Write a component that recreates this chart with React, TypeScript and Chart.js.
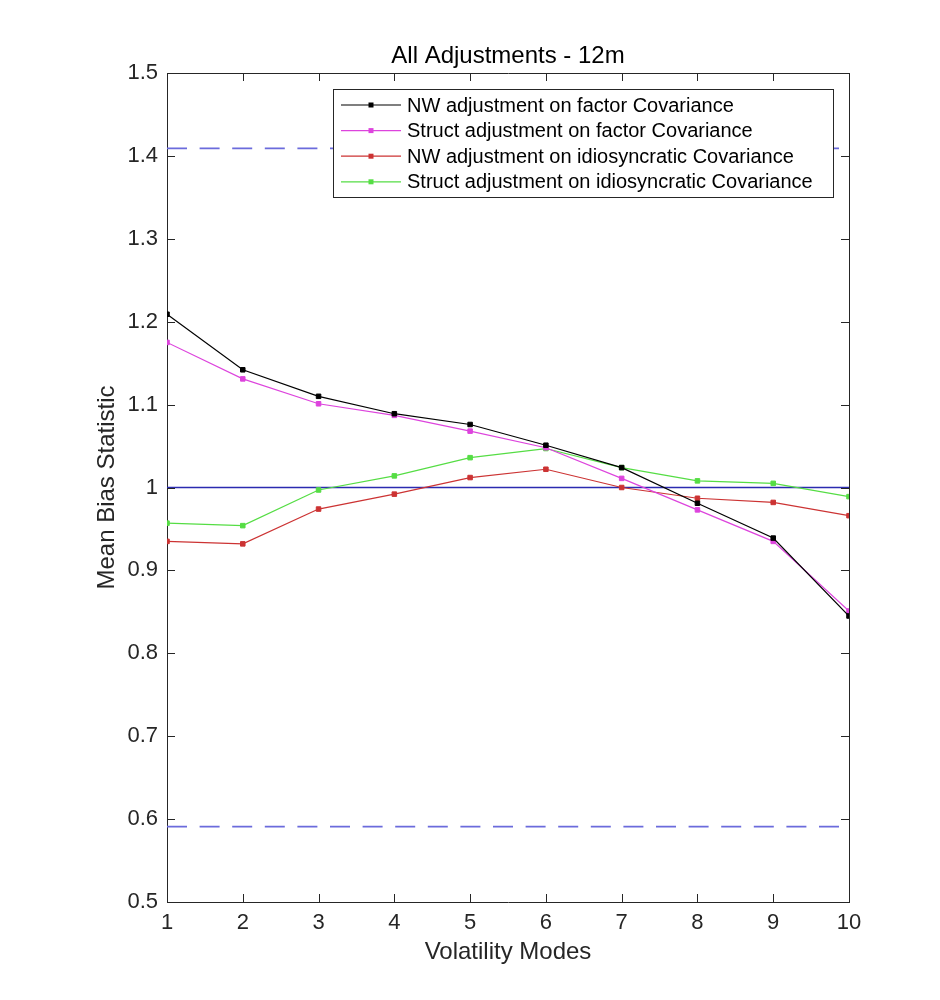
import React, { useEffect, useRef } from 'react';
import { Chart, registerables } from 'chart.js';

Chart.register(...registerables);

const FONT = '"Liberation Sans", Arial, Helvetica, sans-serif';

const chartTitle = 'All Adjustments - 12m';
const xTitle = 'Volatility Modes';
const yTitle = 'Mean Bias Statistic';

const modes = [1, 2, 3, 4, 5, 6, 7, 8, 9, 10];
const nwFactor = [1.209, 1.142, 1.110, 1.089, 1.076, 1.051, 1.024, 0.981, 0.939, 0.845];
const structFactor = [1.175, 1.131, 1.101, 1.087, 1.068, 1.048, 1.011, 0.973, 0.935, 0.851];
const nwIdio = [0.935, 0.932, 0.974, 0.992, 1.012, 1.022, 1.000, 0.987, 0.982, 0.966];
const structIdio = [0.957, 0.954, 0.997, 1.014, 1.036, 1.047, 1.024, 1.008, 1.005, 0.989];

const seriesLabels = [
  'NW adjustment on factor Covariance',
  'Struct adjustment on factor Covariance',
  'NW adjustment on idiosyncratic Covariance',
  'Struct adjustment on idiosyncratic Covariance',
];
const seriesColors = ['#000000', '#dd44dd', '#cc3333', '#55dd44'];

const upperBound = 1.409;
const lowerBound = 0.591;
const target = 1;

const yTicks = [0.5, 0.6, 0.7, 0.8, 0.9, 1, 1.1, 1.2, 1.3, 1.4, 1.5];

const AXIS = '#262626';
const TICK_LEN = 8;

// inward ticks, title and the matlab style legend box
const decor = {
  id: 'decor',
  afterDraw(chart: any) {
    const { ctx, chartArea, scales } = chart;
    const { left, right, top, bottom } = chartArea;
    ctx.save();

    ctx.strokeStyle = AXIS;
    ctx.lineWidth = 1;
    ctx.beginPath();
    modes.forEach((m) => {
      const px = Math.round(scales.x.getPixelForValue(m)) + 0.5;
      ctx.moveTo(px, bottom);
      ctx.lineTo(px, bottom - TICK_LEN);
      ctx.moveTo(px, top);
      ctx.lineTo(px, top + TICK_LEN);
    });
    yTicks.forEach((v) => {
      const py = Math.round(scales.y.getPixelForValue(v)) + 0.5;
      ctx.moveTo(left, py);
      ctx.lineTo(left + TICK_LEN, py);
      ctx.moveTo(right, py);
      ctx.lineTo(right - TICK_LEN, py);
    });
    ctx.stroke();

    ctx.fillStyle = '#000';
    ctx.font = `24px ${FONT}`;
    ctx.textAlign = 'center';
    ctx.textBaseline = 'alphabetic';
    ctx.fillText(chartTitle, (left + right) / 2, 63);

    const items = chart.data.datasets.filter((d: any) => d.inLegend);
    const bx = 333.5, by = 89.5, bw = 500, bh = 108;
    ctx.fillStyle = '#fff';
    ctx.fillRect(bx, by, bw, bh);
    ctx.strokeStyle = AXIS;
    ctx.lineWidth = 1;
    ctx.strokeRect(bx, by, bw, bh);

    ctx.font = `20px ${FONT}`;
    ctx.textAlign = 'left';
    ctx.textBaseline = 'middle';
    items.forEach((d: any, i: number) => {
      const y = 105 + i * 25.6;
      ctx.strokeStyle = d.borderColor;
      ctx.lineWidth = 1.2;
      ctx.beginPath();
      ctx.moveTo(341, y);
      ctx.lineTo(401, y);
      ctx.stroke();
      ctx.fillStyle = d.borderColor;
      ctx.fillRect(368.5, y - 2.5, 5, 5);
      ctx.fillStyle = '#000';
      ctx.fillText(d.label, 407, y + 1);
    });
    ctx.restore();
  },
};

const fmt = (v: number) => String(Number(v.toFixed(1)));

const App: React.FC = () => {
  const canvasRef = useRef<HTMLCanvasElement | null>(null);
  const chartRef = useRef<Chart | null>(null);

  useEffect(() => {
    document.body.style.margin = '0';
    if (!canvasRef.current) return;
    const ctx = canvasRef.current.getContext('2d');
    if (!ctx) return;

    const series = [nwFactor, structFactor, nwIdio, structIdio].map((vals, i) => ({
      label: seriesLabels[i],
      data: modes.map((m, j) => ({ x: m, y: vals[j] })),
      borderColor: seriesColors[i],
      backgroundColor: seriesColors[i],
      borderWidth: 1.2,
      pointStyle: 'rect',
      pointRadius: 3.2,
      pointBorderWidth: 1,
      inLegend: true,
    }));

    const refLine = (v: number, color: string, width: number, dash: number[]) => ({
      label: '',
      data: [
        { x: modes[0], y: v },
        { x: modes[modes.length - 1], y: v },
      ],
      borderColor: color,
      borderWidth: width,
      borderDash: dash,
      pointRadius: 0,
      inLegend: false,
    });

    const tickFont = { family: FONT, size: 22 };
    const titleFont = { family: FONT, size: 24 };
    const noGrid = { drawOnChartArea: false, drawTicks: false };
    const border = { color: AXIS, width: 1 };

    chartRef.current = new Chart(ctx, {
      type: 'line',
      data: {
        datasets: [
          ...series,
          refLine(target, '#2b2bb0', 1.3, []),
          refLine(upperBound, '#6b6bdc', 1.8, [20, 12.6]),
          refLine(lowerBound, '#6b6bdc', 1.8, [20, 12.6]),
        ] as any,
      },
      options: {
        responsive: false,
        animation: false,
        devicePixelRatio: 1,
        layout: { padding: { top: 73, right: 91, left: 0, bottom: 0 } },
        plugins: {
          legend: { display: false },
          title: { display: false },
          tooltip: { enabled: false },
        },
        scales: {
          x: {
            type: 'linear',
            position: 'bottom',
            min: 1,
            max: 10,
            afterFit: (s: any) => { s.height = 98; },
            afterBuildTicks: (s: any) => { s.ticks = modes.map((m) => ({ value: m })); },
            ticks: { font: tickFont, color: AXIS, padding: 8, maxRotation: 0 },
            grid: noGrid,
            border,
            title: { display: true, text: xTitle, font: titleFont, color: AXIS, padding: { top: 0, bottom: 33 } },
          },
          x2: {
            type: 'linear',
            position: 'top',
            min: 1,
            max: 10,
            afterFit: (s: any) => { s.height = 0; },
            ticks: { display: false },
            grid: noGrid,
            border,
          },
          y: {
            type: 'linear',
            position: 'left',
            min: 0.5,
            max: 1.5,
            afterFit: (s: any) => { s.width = 167; },
            afterBuildTicks: (s: any) => { s.ticks = yTicks.map((v) => ({ value: v })); },
            ticks: { font: tickFont, color: AXIS, padding: 9, callback: (v: any) => fmt(Number(v)) },
            grid: noGrid,
            border,
            title: { display: true, text: yTitle, font: titleFont, color: AXIS, padding: { top: 93, bottom: 0 } },
          },
          y2: {
            type: 'linear',
            position: 'right',
            min: 0.5,
            max: 1.5,
            afterFit: (s: any) => { s.width = 0; },
            ticks: { display: false },
            grid: noGrid,
            border,
          },
        },
      } as any,
      plugins: [decor],
    });

    return () => {
      if (chartRef.current) {
        chartRef.current.destroy();
        chartRef.current = null;
      }
    };
  }, []);

  return (
    <div style={{ width: 940, height: 1000, background: '#fff' }}>
      <canvas ref={canvasRef} width={940} height={1000} />
    </div>
  );
};

export default App;
